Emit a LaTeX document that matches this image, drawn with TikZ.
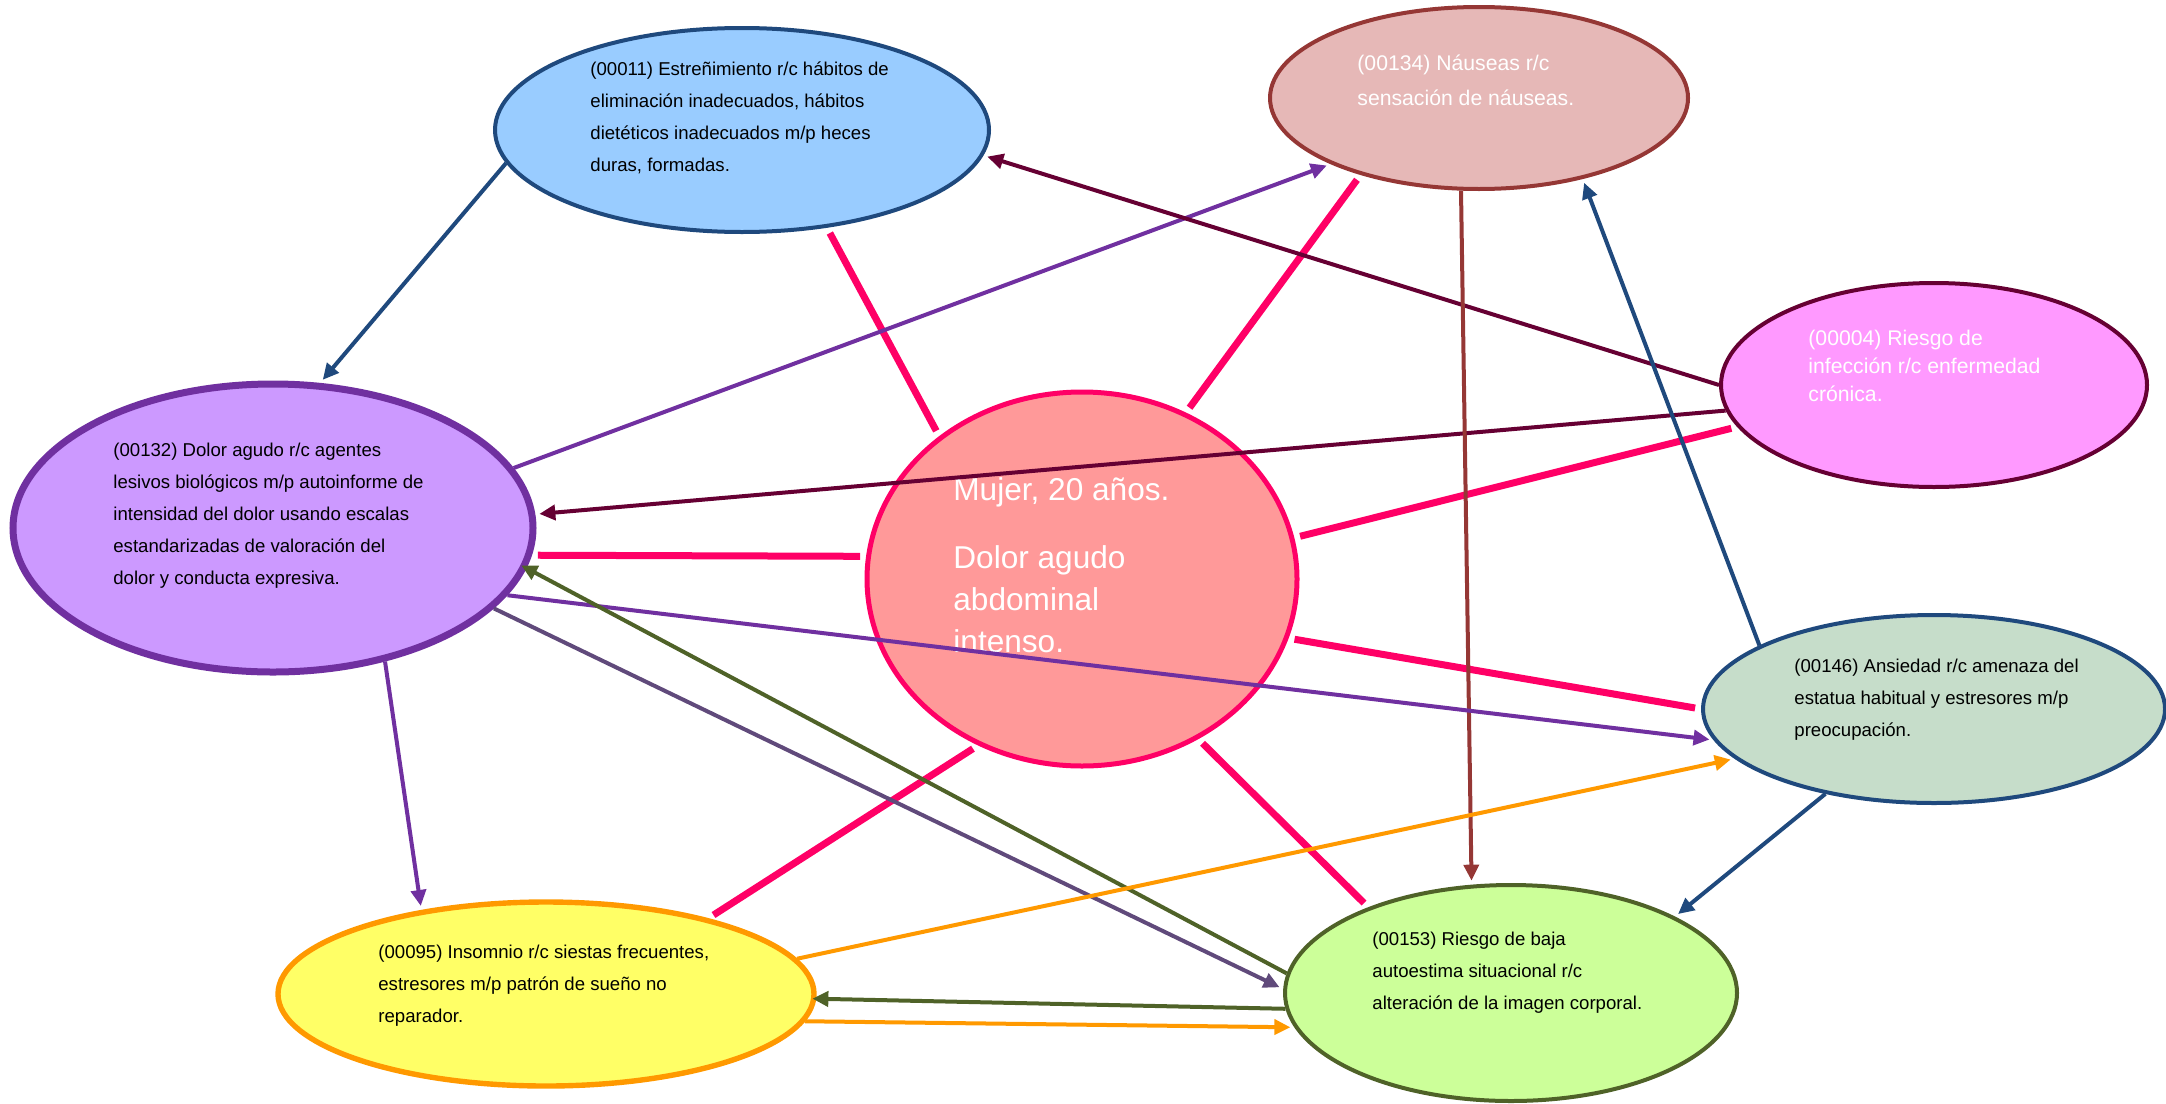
\documentclass[tikz,border=0pt]{standalone}
\usepackage{fontspec}
\setmainfont{Liberation Sans}
\usetikzlibrary{shapes.geometric,arrows.meta}

\definecolor{azulclaro}{HTML}{99CCFF}
\definecolor{azuloscuro}{HTML}{1F497D}
\definecolor{rosaviejo}{HTML}{E6B8B7}
\definecolor{granate}{HTML}{953735}
\definecolor{fucsia}{HTML}{FF99FF}
\definecolor{vino}{HTML}{660033}
\definecolor{lila}{HTML}{CC99FF}
\definecolor{morado}{HTML}{7030A0}
\definecolor{salmon}{HTML}{FF9999}
\definecolor{rosa}{HTML}{FF0066}
\definecolor{verdegris}{HTML}{C6DDCA}
\definecolor{amarillo}{HTML}{FFFF66}
\definecolor{naranja}{HTML}{FF9900}
\definecolor{lima}{HTML}{CCFF99}
\definecolor{oliva}{HTML}{4F6228}
\definecolor{moradogris}{HTML}{604A7B}

\begin{document}
\begin{tikzpicture}[x=0.5pt,y=-0.5pt,
	diag/.style={ellipse, draw, inner sep=0pt, line width=2pt},
	txt/.style={anchor=west, align=left, inner sep=0pt, font=\fontsize{9.3}{16}\selectfont},
	txtw/.style={anchor=west, align=left, inner sep=0pt, text=white, font=\fontsize{10.6}{17.5}\selectfont},
	enlace/.style={rosa, line width=3.5pt, shorten <=3pt, shorten >=3pt},
	flecha/.style={line width=2pt, -{Triangle[length=8pt,width=7.5pt]}, shorten >=2pt}]
	\useasboundingbox (0,0) rectangle (2166,1103);

	\node [diag, fill=azulclaro, draw=azuloscuro, minimum width=247pt, minimum height=102pt] (n11) at (742,130) {};
	\node [diag, fill=rosaviejo, draw=granate, minimum width=209pt, minimum height=91pt] (n134) at (1479,98) {};
	\node [diag, fill=fucsia, draw=vino, minimum width=213pt, minimum height=102pt] (n4) at (1934,385) {};
	\node [diag, fill=lila, draw=morado, line width=3.5pt, minimum width=260pt, minimum height=144pt] (n132) at (273,528) {};
	\node [diag, fill=salmon, draw=rosa, line width=2.5pt, minimum width=215pt, minimum height=187pt] (ctr) at (1082,579) {};
	\node [diag, fill=verdegris, draw=azuloscuro, minimum width=231pt, minimum height=94pt] (n146) at (1934,709) {};
	\node [diag, fill=amarillo, draw=naranja, line width=2.7pt, minimum width=268pt, minimum height=92pt] (n95) at (546,994) {};
	\node [diag, fill=lima, draw=oliva, minimum width=226pt, minimum height=108pt] (n153) at (1511,993) {};

	\node [txt] (t11) at (590,118) {(00011) Estreñimiento r/c hábitos de\\eliminación inadecuados, hábitos\\dietéticos inadecuados m/p heces\\duras, formadas.};
	\node [txtw] (t134) at (1357,80) {(00134) Náuseas r/c\\sensación de náuseas.};
	\node [txtw, font=\fontsize{10.6}{14}\selectfont] (t4) at (1808,366) {(00004) Riesgo de\\infección r/c enfermedad\\crónica.};
	\node [txt] (t132) at (113,516) {(00132) Dolor agudo r/c agentes\\lesivos biológicos m/p autoinforme de\\intensidad del dolor usando escalas\\estandarizadas de valoración del\\dolor y conducta expresiva.};
	\node [txt] (t146) at (1794,700) {(00146) Ansiedad r/c amenaza del\\estatua habitual y estresores m/p\\preocupación.};
	\node [txt] (t95) at (378,986) {(00095) Insomnio r/c siestas frecuentes,\\estresores m/p patrón de sueño no\\reparador.};
	\node [txt] (t153) at (1372,973) {(00153) Riesgo de baja\\autoestima situacional r/c\\alteración de la imagen corporal.};
	\node [anchor=west, align=left, inner sep=0pt, text=white, font=\fontsize{15.8}{21}\selectfont] (tctr) at (953,565) {Mujer, 20 años.\\[13pt]Dolor agudo\\abdominal\\intenso.};

	\draw [enlace] (ctr.135) -- (n11.-49);
	\draw [enlace] (ctr.58) -- (n134.-147);
	\draw [enlace] (ctr.11) -- (n4.-168);
	\draw [enlace] (ctr.-16) -- (n146.180);
	\draw [enlace] (ctr.-54) -- (n153.149);
	\draw [enlace] (ctr.-122) -- (n95.25);
	\draw [enlace] (ctr.174) -- (n132.-6);

	\draw [flecha, azuloscuro] (n11.-172) -- (n132.72);
	\draw [flecha, morado] (n132.14) -- (n134.-156);
	\draw [flecha, vino] (n4.180) -- (n11.-6);
	\draw [flecha, vino] (n4.-173) -- (n132.3);
	\draw [flecha, granate] (n134.-101) -- (n153.110);
	\draw [flecha, azuloscuro] (n146.160) -- (n134.-38);
	\draw [flecha, azuloscuro] (n146.-142) -- (n153.25);
	\draw [flecha, morado] (n132.-16) -- (n146.-172);
	\draw [flecha, moradogris] (n132.-20) -- (n153.179);
	\draw [flecha, oliva, shorten >=-3pt] (n153.175) -- (n132.-9);
	\draw [flecha, morado] (n132.-50) -- (n95.146);
	\draw [flecha, naranja] (n95.8) -- (n146.-166);
	\draw [flecha, oliva, shorten >=-2pt] (n153.-176) -- (n95.-1);
	\draw [flecha, naranja] (n95.-6) -- (n153.-171);
\end{tikzpicture}
\end{document}
